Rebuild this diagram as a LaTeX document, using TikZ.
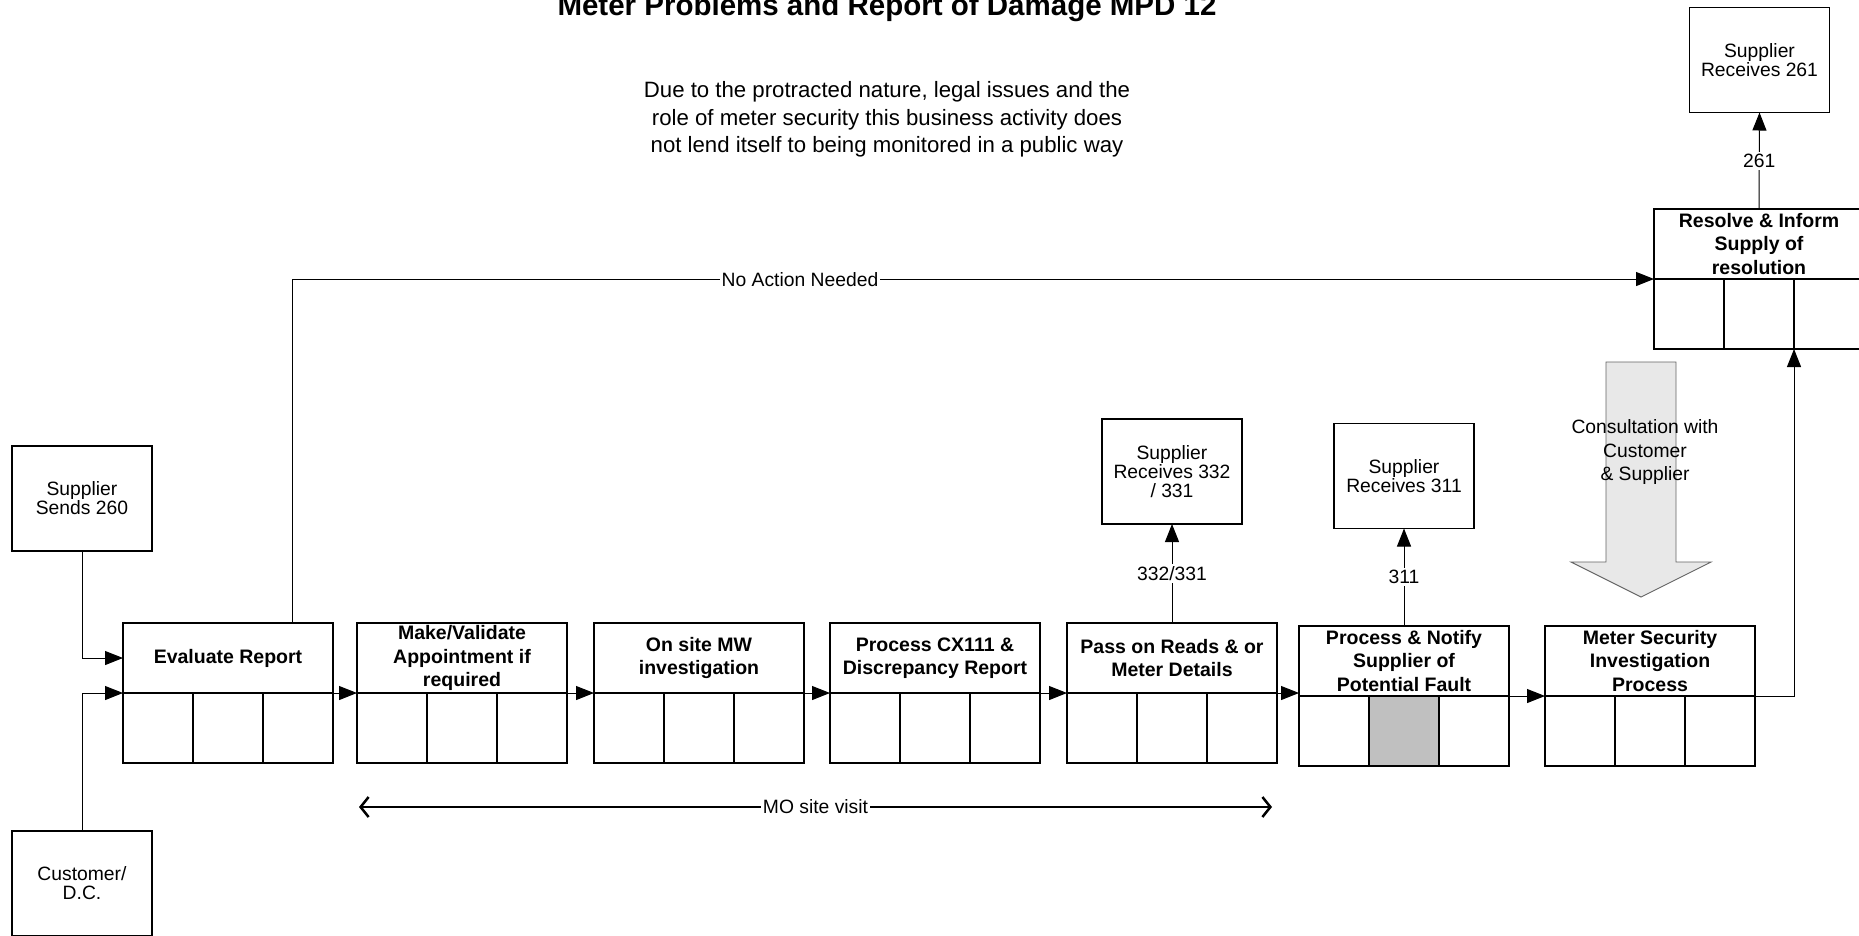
\documentclass[tikz,border=0pt]{standalone}
\usepackage{fontspec}
\setmainfont{Liberation Sans}
\usetikzlibrary{arrows.meta,calc}
\definecolor{cellgray}{RGB}{192,192,192}
\definecolor{arrowfill}{RGB}{232,232,232}
\definecolor{arrowline}{RGB}{100,100,100}
\newcommand{\procbox}[4]{%
  \node[proctop, anchor=north west] (#1-t) at (#2,#3) {#4};
  \node[cell, anchor=north west] (#1-c1) at (#1-t.south west) {};
  \node[cell, anchor=north west] (#1-c2) at (#1-c1.north east) {};
  \node[cell, anchor=north west] (#1-c3) at (#1-c2.north east) {};
}
\tikzset{
  boldtxt/.style={font=\fontsize{19.5pt}{23.5pt}\selectfont\bfseries},
  regtxt/.style={font=\fontsize{19.3pt}{19pt}\selectfont},
  proctop/.style={draw, line width=1.2pt, minimum width=210pt, minimum height=70pt, inner sep=0pt, outer sep=0pt, align=center, boldtxt},
  cell/.style={draw, line width=1.2pt, minimum width=70pt, minimum height=70pt, inner sep=0pt, outer sep=0pt},
  extbox/.style={draw, line width=1.3pt, minimum width=140pt, minimum height=105pt, inner sep=0pt, outer sep=0pt, align=center, regtxt},
  conn/.style={line width=1pt, -{Triangle[length=18pt,width=14pt]}},
  lbl/.style={fill=white, inner sep=2pt, regtxt},
  moline/.style={line width=2.5pt, {Straight Barb[length=8pt,width=20pt]}-{Straight Barb[length=8pt,width=20pt]}},
  bigarrow/.style={draw=arrowline, fill=arrowfill, line width=0.9pt},
}
\begin{document}
\begin{tikzpicture}[x=1pt, y=-1pt]
\useasboundingbox (0,0) rectangle (1859,935);

% title and note
\node[font=\fontsize{29.5pt}{30pt}\selectfont\bfseries, anchor=base, inner sep=0pt] (title) at (887,15) {Meter Problems and Report of Damage MPD 12};
\node[align=center, font=\fontsize{22.2pt}{27.5pt}\selectfont, inner sep=0pt] (note) at (887,119.5) {Due to the protracted nature, legal issues and the\\role of meter security this business activity does\\not lend itself to being monitored in a public way};

% external boxes
\node[extbox] (ss260) at (82,498.5) {Supplier\\Sends 260};
\node[extbox] (cust) at (82,883.5) {Customer/\\D.C.};
\node[extbox] (sr332) at (1172,471.5) {Supplier\\Receives 332\\/ 331};
\node[extbox] (sr311) at (1404,476) {Supplier\\Receives 311};
\node[extbox] (sr261) at (1759.5,60) {Supplier\\Receives 261};

% process boxes
\procbox{ev}{123}{623}{Evaluate Report}
\procbox{mk}{357}{623}{Make/Validate\\Appointment if\\required}
\procbox{os}{594}{623}{On site MW\\investigation}
\procbox{cx}{830}{623}{Process CX111 \&\\Discrepancy Report}
\procbox{pr}{1067}{623}{Pass on Reads \& or\\Meter Details}
\procbox{pn}{1299}{626}{Process \& Notify\\Supplier of\\Potential Fault}
\procbox{ms}{1545}{626}{Meter Security\\Investigation\\Process}
\procbox{rs}{1654}{209}{Resolve \& Inform\\Supply of\\resolution}
\node[cell, fill=cellgray, anchor=north west] at (pn-c2.north west) {};

% big consultation arrow
\draw[bigarrow] (1606,362) -- (1676,362) -- (1676,562) -- (1711,562) -- (1641,597) -- (1571,562) -- (1606,562) -- cycle;
\node[align=center, font=\fontsize{19.3pt}{23.5pt}\selectfont, inner sep=0pt] (consult) at (1645,452) {Consultation with\\Customer\\\& Supplier};

% inputs
\draw[conn] (ss260.south) |- (ev-t.west);
\draw[conn] (cust.north) |- (ev-c1.north west);

% main chain
\draw[conn] (ev-c3.north east) -- (mk-c1.north west);
\draw[conn] (mk-c3.north east) -- (os-c1.north west);
\draw[conn] (os-c3.north east) -- (cx-c1.north west);
\draw[conn] (cx-c3.north east) -- (pr-c1.north west);
\draw[conn] (pr-c3.north east) -- (pr-c3.north east -| pn-c1.north west);
\draw[conn] (pn-c3.north east) -- (ms-c1.north west);
\draw[conn] (ms-c3.north east) -| (rs-c2.south east);

% outputs
\draw[conn] (pr-t.north) -- node[lbl] {332/331} (sr332.south);
\draw[conn] (pn-t.north) -- node[lbl] {311} (sr311.south);
\draw[conn] (rs-t.north) -- node[lbl] {261} (sr261.south);

% no action needed
\draw[conn] ([xshift=-41pt]ev-t.north east) |- (rs-c1.north west);
\node[lbl] (noaction) at (800,280) {No Action Needed};

% MO site visit
\coordinate (mo-l) at (359,807);
\coordinate (mo-r) at (1272,807);
\draw[moline] (mo-l) -- node[lbl] {MO site visit} (mo-r);
\end{tikzpicture}
\end{document}
